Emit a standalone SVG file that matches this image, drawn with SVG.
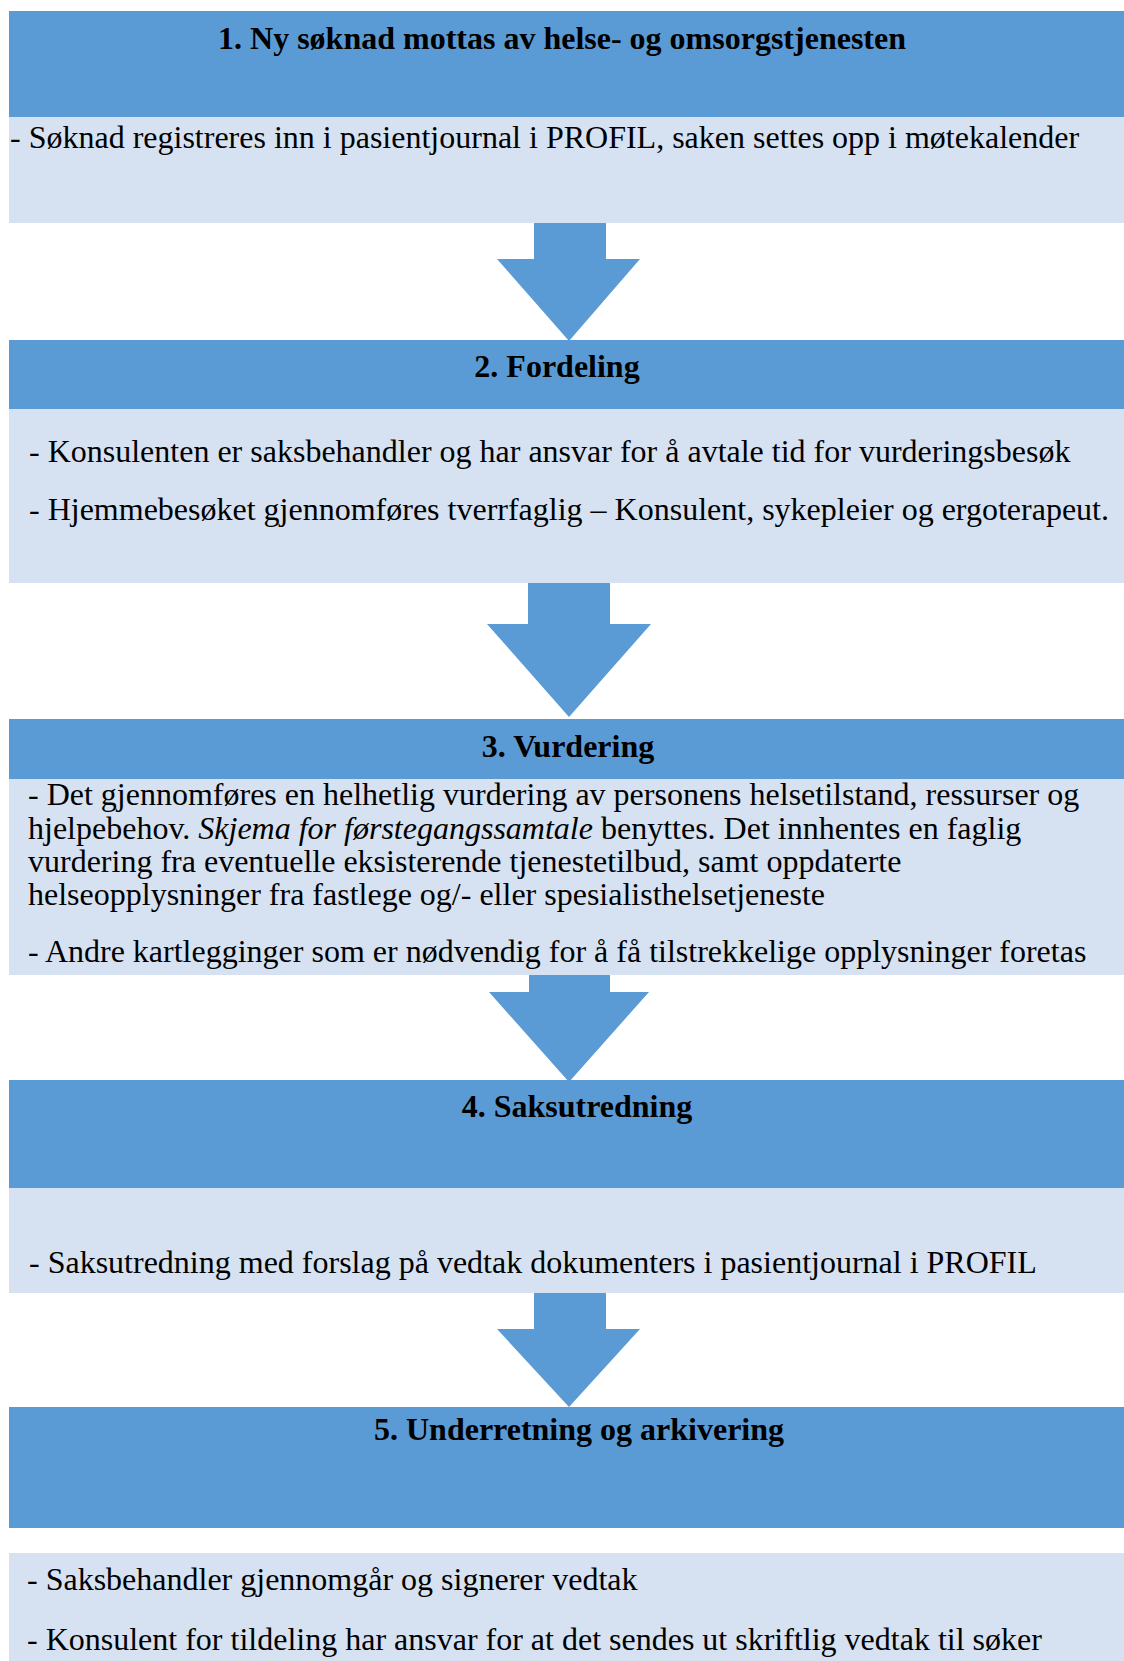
<svg xmlns="http://www.w3.org/2000/svg" width="1124" height="1661" viewBox="0 0 1124 1661">
<style>
.hd{fill:#5B9BD5}
.bd{fill:#D6E2F2}
.ar{fill:#5B9BD5}
text{font-family:"Liberation Serif","Times New Roman",serif;font-size:32px;fill:#000}
.t{font-weight:bold;text-anchor:middle}
</style>
<rect x="0" y="0" width="1124" height="1661" fill="#FFFFFF"/>
<g id="connectors">
<polygon class="ar" points="534,223 606,223 606,259 640,259 569,341 497,259 534,259"/>
<polygon class="ar" points="528,583 610,583 610,624 651,624 569,717 487,624 528,624"/>
<polygon class="ar" points="529,975 610,975 610,992 649,992 569,1082 489,992 529,992"/>
<polygon class="ar" points="534,1293 606,1293 606,1329 640,1329 569,1407 497,1329 534,1329"/>
</g>
<g id="node1">
<rect class="hd" x="9" y="11" width="1115" height="106"/>
<rect class="bd" x="9" y="117" width="1115" height="106"/>
<text class="t" x="562" y="49">1. Ny søknad mottas av helse- og omsorgstjenesten</text>
<text x="10" y="148">- Søknad registreres inn i pasientjournal i PROFIL, saken settes opp i møtekalender</text>
</g>
<g id="node2">
<rect class="hd" x="9" y="340" width="1115" height="69"/>
<rect class="bd" x="9" y="409" width="1115" height="174"/>
<text class="t" x="557" y="377">2. Fordeling</text>
<text x="29" y="462">- Konsulenten er saksbehandler og har ansvar for å avtale tid for vurderingsbesøk</text>
<text x="29" y="520">- Hjemmebesøket gjennomføres tverrfaglig – Konsulent, sykepleier og ergoterapeut.</text>
</g>
<g id="node3">
<rect class="hd" x="9" y="719" width="1115" height="60"/>
<rect class="bd" x="9" y="779" width="1115" height="196"/>
<text class="t" x="568" y="757">3. Vurdering</text>
<text x="28" y="805">- Det gjennomføres en helhetlig vurdering av personens helsetilstand, ressurser og</text>
<text x="28" y="839">hjelpebehov. <tspan font-style="italic">Skjema for førstegangssamtale</tspan> benyttes. Det innhentes en faglig</text>
<text x="28" y="872">vurdering fra eventuelle eksisterende tjenestetilbud, samt oppdaterte</text>
<text x="28" y="905">helseopplysninger fra fastlege og/- eller spesialisthelsetjeneste</text>
<text x="28" y="962">- Andre kartlegginger som er nødvendig for å få tilstrekkelige opplysninger foretas</text>
</g>
<g id="node4">
<rect class="hd" x="9" y="1080" width="1115" height="108"/>
<rect class="bd" x="9" y="1188" width="1115" height="105"/>
<text class="t" x="577" y="1117">4. Saksutredning</text>
<text x="29" y="1273">- Saksutredning med forslag på vedtak dokumenters i pasientjournal i PROFIL</text>
</g>
<g id="node5">
<rect class="hd" x="9" y="1407" width="1115" height="121"/>
<rect class="bd" x="9" y="1553" width="1115" height="108"/>
<text class="t" x="579" y="1440">5. Underretning og arkivering</text>
<text x="27" y="1590">- Saksbehandler gjennomgår og signerer vedtak</text>
<text x="27" y="1650">- Konsulent for tildeling har ansvar for at det sendes ut skriftlig vedtak til søker</text>
</g>
</svg>
